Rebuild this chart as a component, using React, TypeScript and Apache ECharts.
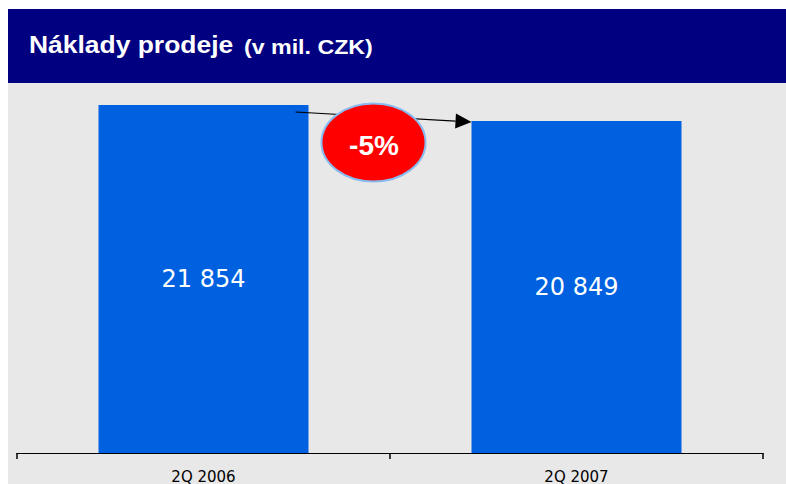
import React, { useEffect, useRef } from "react";
import * as echarts from "echarts";

const categories: string[] = ["2Q 2006", "2Q 2007"];
const costValues: number[] = [21854, 20849];
const titleMain = "Náklady prodeje";
const titleUnit = "(v mil. CZK)";
const changeLabel = "-5%";

const fmt = (v: number) => String(v).replace(/\B(?=(\d{3})+(?!\d))/g, " ");

export default function App() {
  const ref = useRef<HTMLDivElement>(null);
  useEffect(() => {
    if (!ref.current) return;
    const chart = echarts.init(ref.current, null, { renderer: "svg" });
    chart.setOption({
      animation: false,
      backgroundColor: "#ffffff",
      grid: { left: 17, right: 23, top: 105, bottom: 31 },
      xAxis: {
        type: "category",
        data: categories,
        boundaryGap: true,
        axisLine: { show: true, lineStyle: { color: "#000000", width: 1.2 } },
        axisTick: { show: true, alignWithLabel: false, interval: 0, length: 6, lineStyle: { color: "#000000", width: 1.5 } },
        axisLabel: { color: "#000000", fontSize: 15, fontFamily: "DejaVu Sans", margin: 16 },
      },
      yAxis: { type: "value", show: false, min: 0, max: costValues[0], splitLine: { show: false } },
      series: [
        {
          type: "bar",
          data: costValues,
          barWidth: 210,
          itemStyle: { color: "#0061E0" },
          label: {
            show: true,
            position: "inside",
            color: "#ffffff",
            fontSize: 24,
            fontFamily: "DejaVu Sans",
            formatter: (p: any) => fmt(p.value),
          },
        },
      ],
    });
    const p0 = chart.convertToPixel({ gridIndex: 0 }, [0, costValues[0]]) as number[];
    const p1 = chart.convertToPixel({ gridIndex: 0 }, [1, costValues[1]]) as number[];
    const sx = p0[0] + 92, sy = p0[1] + 7;
    const ex = p1[0] - 105, ey = p1[1] + 1;
    const dx = ex - sx, dy = ey - sy;
    const L = Math.sqrt(dx * dx + dy * dy);
    const ux = dx / L, uy = dy / L;
    const bx = ex - ux * 16, by = ey - uy * 16;
    const nx = -uy * 7.5, ny = ux * 7.5;
    chart.setOption({
      graphic: [
        { type: "rect", z: -1, shape: { x: 8, y: 83, width: 778, height: 401 }, style: { fill: "#E8E8E8" } },
        { type: "rect", z: -1, shape: { x: 8, y: 9, width: 778, height: 74 }, style: { fill: "#000080" } },
        {
          type: "text", z: 5, x: 29, y: 45.5, scaleX: 1.15,
          style: { text: titleMain, fill: "#ffffff", font: "bold 23px 'Liberation Sans', Arial", verticalAlign: "middle" },
        },
        {
          type: "text", z: 5, x: 244, y: 47, scaleX: 1.16,
          style: { text: titleUnit, fill: "#ffffff", font: "bold 20px 'Liberation Sans', Arial", verticalAlign: "middle" },
        },
        { type: "line", z: 10, shape: { x1: sx, y1: sy, x2: bx, y2: by }, style: { stroke: "#000000", lineWidth: 1.2 } },
        {
          type: "polygon", z: 10,
          shape: { points: [[ex, ey], [bx + nx, by + ny], [bx - nx, by - ny]] },
          style: { fill: "#000000" },
        },
        {
          type: "ellipse", z: 11,
          shape: { cx: 373.5, cy: 142.5, rx: 52, ry: 39 },
          style: { fill: "#FF0000", stroke: "#88BBF0", lineWidth: 2 },
        },
        {
          type: "text", z: 12, x: 374, y: 145,
          style: {
            text: changeLabel, fill: "#ffffff", font: "bold 28px 'Liberation Sans', Arial",
            align: "center", verticalAlign: "middle",
          },
        },
      ],
    });
    return () => chart.dispose();
  }, []);
  return <div ref={ref} style={{ position: "absolute", left: 0, top: 0, width: 786, height: 484 }} />;
}
